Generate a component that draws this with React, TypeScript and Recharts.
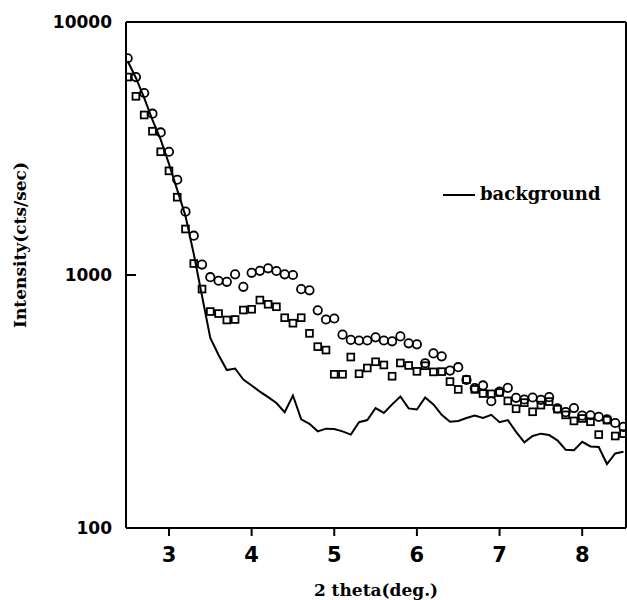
import {
  ComposedChart,
  Line,
  Scatter,
  XAxis,
  YAxis,
  ReferenceLine,
  Legend,
  Label,
} from 'recharts';

// 2 theta positions, 0.1 deg steps
const theta = [
  2.5, 2.6, 2.7, 2.8, 2.9, 3.0, 3.1, 3.2, 3.3, 3.4,
  3.5, 3.6, 3.7, 3.8, 3.9, 4.0, 4.1, 4.2, 4.3, 4.4,
  4.5, 4.6, 4.7, 4.8, 4.9, 5.0, 5.1, 5.2, 5.3, 5.4,
  5.5, 5.6, 5.7, 5.8, 5.9, 6.0, 6.1, 6.2, 6.3, 6.4,
  6.5, 6.6, 6.7, 6.8, 6.9, 7.0, 7.1, 7.2, 7.3, 7.4,
  7.5, 7.6, 7.7, 7.8, 7.9, 8.0, 8.1, 8.2, 8.3, 8.4,
  8.5,
];

// open circles
const circleCounts = [
  7190, 6060, 5240, 4340, 3660, 3070, 2380, 1780, 1430, 1100,
  980, 949, 940, 1006, 898, 1020, 1039, 1063, 1037, 1006,
  1000, 879, 870, 725, 667, 673, 581, 554, 551, 551,
  567, 551, 547, 572, 537, 532, 448, 490, 477, 419,
  432, 385, 357, 366, 317, 346, 358, 327, 322, 328,
  321, 329, 297, 287, 298, 278, 279, 275, 269, 260,
  251,
];

// open squares
const squareCounts = [
  6060, 5085, 4290, 3700, 3070, 2580, 2030, 1520, 1110, 880,
  717, 704, 664, 667, 727, 732, 796, 766, 749, 678,
  645, 678, 588, 521, 505, 405, 405, 474, 407, 429,
  454, 441, 398, 449, 439, 416, 438, 414, 415, 379,
  353, 386, 353, 340, 339, 343, 318, 296, 313, 288,
  306, 316, 295, 280, 265, 271, 263, 234, 267, 231,
  236,
];

// background (solid line)
const backgroundCounts = [
  7010, 6010, 5010, 4100, 3430, 2750, 2170, 1710, 1210, 826,
  564, 483, 421, 427, 386, 366, 346, 329, 312, 287,
  334, 269, 258, 241, 247, 246, 241, 234, 262, 267,
  298, 285, 308, 331, 297, 294, 328, 308, 280, 263,
  265, 272, 278, 272, 280, 262, 267, 240, 218, 231,
  236, 233, 222, 204, 203, 219, 210, 209, 179, 197,
  200,
];

const xTicks = [3, 4, 5, 6, 7, 8];
const yTicks = [100, 1000, 10000];
const xMin = 2.48;
const xMax = 8.53;

const rows = theta.map((x, i) => ({
  x,
  circles: circleCounts[i],
  squares: squareCounts[i],
  background: backgroundCounts[i],
}));

const ink = '#000';

const CircleMark = (p: any) => (
  <circle cx={p.cx} cy={p.cy} r={4.2} fill="none" stroke={ink} strokeWidth={1.8} />
);

const SquareMark = (p: any) => (
  <rect x={p.cx - 3.4} y={p.cy - 3.4} width={6.8} height={6.8} fill="none" stroke={ink} strokeWidth={1.8} />
);

function YTick({ x, y, payload }: any) {
  return (
    <g>
      <line x1={x + 14} x2={x + 24} y1={y} y2={y} stroke={ink} strokeWidth={2} />
      <text
        x={x}
        y={y}
        textAnchor="end"
        dominantBaseline="central"
        fontFamily="DejaVu Sans"
        fontWeight="bold"
        fontSize={17}
        fill={ink}
      >
        {payload.value}
      </text>
    </g>
  );
}

function XTitle({ viewBox }: any) {
  return (
    <text
      x={viewBox.x + viewBox.width / 2}
      y={viewBox.y + viewBox.height - 4}
      textAnchor="middle"
      fontFamily="DejaVu Serif"
      fontWeight="bold"
      fontSize={17}
      fill={ink}
    >
      2 theta(deg.)
    </text>
  );
}

function YTitle() {
  return (
    <text
      transform="translate(20, 245) rotate(-90)"
      textAnchor="middle"
      dominantBaseline="central"
      fontFamily="DejaVu Serif"
      fontWeight="bold"
      fontSize={17}
      fill={ink}
    >
      Intensity(cts/sec)
    </text>
  );
}

function BackgroundKey() {
  return (
    <svg width={185} height={30}>
      <line x1={3} x2={35} y1={15} y2={15} stroke={ink} strokeWidth={2} />
      <text x={40} y={20} fontFamily="DejaVu Serif" fontWeight="bold" fontSize={18} fill={ink}>
        background
      </text>
    </svg>
  );
}

export default function App() {
  return (
    <div style={{ position: 'absolute', left: 0, top: 0, width: 627, height: 600, background: '#fff' }}>
      <ComposedChart
        width={627}
        height={600}
        data={rows}
        margin={{ top: 22, right: 1, bottom: 0, left: 0 }}
      >
        <XAxis
          dataKey="x"
          type="number"
          domain={[xMin, xMax]}
          ticks={xTicks}
          allowDataOverflow
          height={72}
          tickSize={8}
          tickMargin={11}
          axisLine={{ stroke: ink, strokeWidth: 2 }}
          tickLine={{ stroke: ink, strokeWidth: 2 }}
          tick={{ fill: ink, fontSize: 21, fontWeight: 'bold', fontFamily: 'DejaVu Sans' }}
        >
          <Label content={XTitle} />
        </XAxis>
        <YAxis
          type="number"
          scale="log"
          domain={[100, 10000]}
          ticks={yTicks}
          allowDataOverflow
          width={126}
          tickLine={false}
          tickSize={0}
          tickMargin={14}
          axisLine={{ stroke: ink, strokeWidth: 2 }}
          tick={<YTick />}
        >
          <Label content={YTitle} />
        </YAxis>
        <ReferenceLine y={10000} stroke={ink} strokeWidth={2} />
        <ReferenceLine x={xMax} stroke={ink} strokeWidth={2} />
        <Line
          type="linear"
          dataKey="background"
          stroke={ink}
          strokeWidth={2}
          dot={false}
          isAnimationActive={false}
        />
        <Scatter dataKey="circles" shape={CircleMark} isAnimationActive={false} />
        <Scatter dataKey="squares" shape={SquareMark} isAnimationActive={false} />
        <Legend
          verticalAlign="middle"
          align="center"
          layout="horizontal"
          wrapperStyle={{ left: 440, top: 180, width: 185, height: 30 }}
          content={BackgroundKey}
        />
      </ComposedChart>
    </div>
  );
}
